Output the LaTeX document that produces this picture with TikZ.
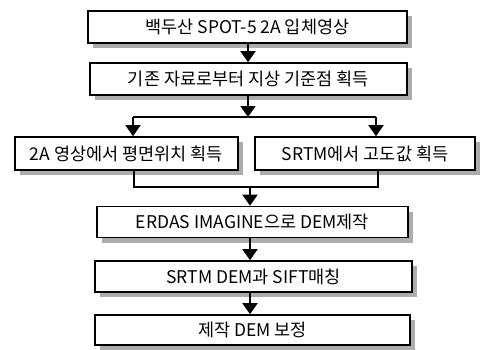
\documentclass[tikz,border=0pt]{standalone}
\usepackage{fontspec}
\setmainfont{Noto Sans CJK KR}
\usetikzlibrary{shadows,arrows.meta}
\begin{document}
\begin{tikzpicture}[x=1pt,y=-1pt,
  box/.style={draw=black,line width=1.6pt,fill=white,inner sep=0pt,
    font=\fontsize{17.5}{20}\selectfont,
    drop shadow={shadow xshift=5pt,shadow yshift=-5pt,fill=gray!65,opacity=1}},
  conn/.style={line width=1.8pt},
  arr/.style={conn,-{Triangle[width=15pt,length=11pt]}}]
\useasboundingbox (0,0) rectangle (496,349);
\node[box,minimum width=319pt,minimum height=32pt] (b1) at (247.5,27) {백두산 SPOT-5 2A 입체영상};
\node[box,minimum width=317pt,minimum height=32pt] (b2) at (248.5,79) {기존 자료로부터 지상 기준점 획득};
\node[box,minimum width=223pt,minimum height=33pt] (b3) at (126.5,153.5) {2A 영상에서 평면위치 획득};
\node[box,minimum width=220pt,minimum height=33pt] (b4) at (365,153.5) {SRTM에서 고도값 획득};
\node[box,minimum width=311pt,minimum height=31pt] (b5) at (252.5,222) {ERDAS IMAGINE으로 DEM제작};
\node[box,minimum width=317pt,minimum height=31pt] (b6) at (253.5,276.5) {SRTM DEM과 SIFT매칭};
\node[box,minimum width=315pt,minimum height=30pt] (b7) at (252.5,330) {제작 DEM 보정};
\coordinate (s1) at (248,117);
\coordinate (sl) at (133,117);
\coordinate (sr) at (376,117);
\coordinate (j1) at (134,187);
\coordinate (j2) at (378,187);
\coordinate (jm) at (250,187);
\draw[arr] (b1.south -| 248,0) -- (b2.north -| 248,0);
\draw[arr] (b2.south -| s1) -- (s1);
\draw[conn] (sl) -- (sr);
\draw[arr] (sl) -- (b3.north -| sl);
\draw[arr] (sr) -- (b4.north -| sr);
\draw[conn] (b3.south -| j1) -- (j1) -- (j2) -- (b4.south -| j2);
\draw[arr] (jm) -- (b5.north -| jm);
\draw[arr] (b5.south -| 250,0) -- (b6.north -| 250,0);
\draw[arr] (b6.south -| 250,0) -- (b7.north -| 250,0);
\end{tikzpicture}
\end{document}
